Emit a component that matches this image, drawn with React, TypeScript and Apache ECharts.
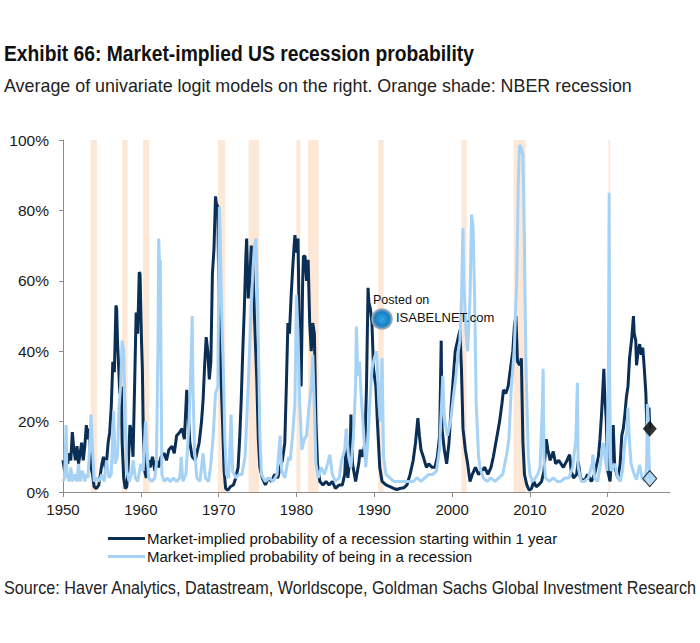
import React, { useEffect, useRef } from "react";
import * as echarts from "echarts";

// NBER recession periods (start, end) in decimal years
const nberRecessions: number[][] = [
  [1953.55, 1954.35],
  [1957.6, 1958.3],
  [1960.3, 1961.1],
  [1969.9, 1970.85],
  [1973.85, 1975.2],
  [1980.0, 1980.5],
  [1981.5, 1982.85],
  [1990.5, 1991.2],
  [2001.2, 2001.85],
  [2007.9, 2009.45],
  [2020.1, 2020.3],
];

// Market-implied probability of a recession starting within 1 year (%)
const startWithinOneYear: number[][] = [
  [1950.0, 9], [1950.2, 6], [1950.4, 10], [1950.6, 8], [1950.8, 11], [1951.0, 9],
  [1951.2, 17], [1951.4, 12], [1951.6, 9], [1951.8, 13], [1952.0, 8], [1952.2, 11],
  [1952.4, 14], [1952.6, 9], [1952.8, 13], [1953.0, 19], [1953.2, 15], [1953.4, 18],
  [1953.6, 7], [1953.8, 5], [1954.0, 1.5], [1954.3, 1], [1954.6, 2], [1955.0, 8],
  [1955.2, 10], [1955.5, 6], [1955.8, 14], [1956.0, 17], [1956.2, 24], [1956.4, 37],
  [1956.6, 34], [1956.8, 53], [1956.9, 52], [1957.0, 43], [1957.1, 38], [1957.3, 28],
  [1957.5, 30], [1957.6, 14], [1957.8, 4], [1958.0, 1], [1958.2, 1.5], [1958.4, 8],
  [1958.6, 19], [1958.8, 17], [1959.0, 10], [1959.2, 30], [1959.4, 51], [1959.6, 45],
  [1959.8, 62.5], [1959.9, 62], [1960.1, 42], [1960.2, 35], [1960.3, 19], [1960.5, 6],
  [1960.7, 4], [1961.0, 9], [1961.2, 7], [1961.5, 10], [1961.8, 6], [1962.0, 9],
  [1962.3, 7], [1962.6, 10], [1963.0, 11], [1963.3, 9], [1963.6, 12], [1964.0, 13],
  [1964.3, 11], [1964.6, 16], [1965.0, 17], [1965.3, 18], [1965.6, 15], [1965.9, 29],
  [1966.1, 22], [1966.3, 14], [1966.6, 10], [1967.0, 9], [1967.2, 11], [1967.5, 14],
  [1967.8, 20], [1968.0, 26], [1968.2, 36], [1968.4, 44], [1968.6, 40], [1968.8, 32],
  [1969.0, 37], [1969.2, 62], [1969.4, 69], [1969.6, 84], [1969.7, 82], [1969.9, 81],
  [1970.0, 60], [1970.1, 50], [1970.3, 33], [1970.5, 20], [1970.7, 6], [1970.9, 1],
  [1971.2, 0.5], [1971.5, 1.5], [1971.9, 2], [1972.2, 4], [1972.5, 7], [1972.7, 15],
  [1972.9, 26], [1973.1, 40], [1973.3, 52], [1973.5, 67], [1973.6, 72], [1973.8, 55],
  [1974.0, 60], [1974.2, 70], [1974.4, 64], [1974.6, 50], [1974.9, 32], [1975.1, 15],
  [1975.3, 7], [1975.6, 4], [1976.0, 2], [1976.4, 4], [1976.8, 3], [1977.2, 5],
  [1977.6, 4], [1977.9, 7], [1978.2, 9], [1978.5, 14], [1978.7, 30], [1978.9, 48],
  [1979.1, 45], [1979.3, 55], [1979.5, 63], [1979.7, 70], [1979.8, 73], [1980.0, 68],
  [1980.2, 72], [1980.4, 40], [1980.6, 30], [1980.8, 60], [1980.9, 67], [1981.1, 67],
  [1981.3, 60], [1981.5, 66], [1981.7, 48], [1981.9, 40], [1982.1, 48], [1982.3, 45],
  [1982.5, 20], [1982.7, 8], [1983.0, 3], [1983.4, 2], [1983.8, 3], [1984.2, 2],
  [1984.6, 3], [1985.0, 1], [1985.5, 2], [1985.9, 2], [1986.2, 5], [1986.4, 14],
  [1986.6, 4], [1986.9, 10], [1987.0, 22], [1987.2, 8], [1987.6, 3], [1988.0, 8],
  [1988.2, 12], [1988.5, 10], [1988.8, 14], [1989.0, 30], [1989.2, 58], [1989.3, 54],
  [1989.5, 52], [1989.7, 48], [1989.9, 35], [1990.2, 30], [1990.4, 20], [1990.7, 7],
  [1991.0, 3], [1991.5, 2], [1992.0, 1.5], [1992.5, 1], [1992.9, 0.7], [1993.3, 1],
  [1993.8, 1.2], [1994.2, 2], [1994.6, 5], [1995.0, 9], [1995.3, 14], [1995.6, 21],
  [1995.8, 16], [1996.0, 12], [1996.3, 10], [1996.7, 7], [1997.0, 8], [1997.4, 7],
  [1997.8, 7], [1998.1, 10], [1998.4, 16], [1998.6, 43], [1998.7, 18], [1999.0, 12],
  [1999.3, 8], [1999.6, 14], [1999.9, 25], [2000.1, 31], [2000.4, 40], [2000.7, 43],
  [2001.0, 46], [2001.2, 35], [2001.4, 18], [2001.7, 12], [2002.0, 8], [2002.3, 3],
  [2002.6, 5], [2003.0, 7], [2003.4, 5], [2003.8, 6], [2004.2, 7], [2004.6, 5],
  [2005.0, 7], [2005.3, 10], [2005.7, 15], [2006.1, 20], [2006.4, 25], [2006.6, 29],
  [2006.9, 28], [2007.2, 30], [2007.5, 35], [2007.8, 40], [2008.0, 47], [2008.2, 50],
  [2008.4, 37], [2008.7, 36], [2008.9, 38], [2009.1, 14], [2009.3, 5], [2009.6, 2],
  [2009.9, 0.5], [2010.2, 1], [2010.5, 3], [2010.8, 1.5], [2011.1, 2], [2011.5, 3],
  [2011.8, 6], [2012.1, 15], [2012.3, 12], [2012.6, 9], [2013.0, 11.5], [2013.3, 8],
  [2013.7, 9], [2014.0, 8], [2014.3, 7], [2014.7, 8.7], [2015.1, 10.6], [2015.3, 6],
  [2015.6, 4], [2016.0, 5], [2016.2, 8.7], [2016.5, 4], [2017.0, 3], [2017.4, 5],
  [2017.9, 3], [2018.3, 5], [2018.8, 10], [2019.0, 15], [2019.2, 22], [2019.5, 35],
  [2019.6, 28], [2019.8, 21], [2020.0, 6], [2020.3, 3], [2020.5, 10], [2020.7, 19],
  [2020.9, 7], [2021.3, 4], [2021.6, 8], [2021.8, 16], [2022.0, 18], [2022.2, 22],
  [2022.4, 27], [2022.6, 30], [2022.8, 38], [2022.9, 40], [2023.1, 44], [2023.3, 50],
  [2023.4, 45], [2023.6, 43], [2023.7, 36], [2023.9, 40], [2024.1, 42], [2024.3, 39],
  [2024.5, 41], [2024.7, 35], [2024.9, 28], [2025.0, 20], [2025.1, 16], [2025.3, 24],
  [2025.4, 18],
];

// Market-implied probability of being in a recession (%)
const beingInRecession: number[][] = [
  [1950.0, 3], [1950.2, 4], [1950.4, 19], [1950.5, 5], [1950.8, 3], [1951.0, 7],
  [1951.2, 3], [1951.5, 5], [1951.8, 3], [1952.0, 8], [1952.2, 3], [1952.5, 6],
  [1952.8, 3], [1953.0, 5], [1953.2, 4], [1953.5, 15], [1953.6, 22], [1953.8, 12],
  [1954.0, 3], [1954.3, 4], [1954.6, 3], [1955.0, 5], [1955.3, 3], [1955.6, 9],
  [1955.9, 4], [1956.2, 5], [1956.5, 23], [1956.7, 8], [1957.0, 10], [1957.2, 24],
  [1957.4, 30], [1957.6, 43], [1957.8, 40], [1958.0, 20], [1958.2, 6], [1958.5, 3],
  [1958.8, 5], [1959.0, 9], [1959.3, 4], [1959.6, 3], [1960.0, 8], [1960.3, 6],
  [1960.6, 20], [1960.8, 12], [1961.0, 4], [1961.4, 3], [1961.8, 4], [1962.0, 8],
  [1962.2, 40], [1962.3, 72], [1962.4, 65], [1962.5, 66], [1962.6, 35], [1962.7, 5],
  [1963.0, 3], [1963.4, 4], [1963.8, 3], [1964.2, 4], [1964.6, 3], [1965.0, 4],
  [1965.2, 10], [1965.4, 3], [1965.8, 5], [1966.2, 20], [1966.5, 40], [1966.6, 50],
  [1966.7, 30], [1966.9, 12], [1967.2, 4], [1967.6, 3], [1968.0, 11], [1968.3, 4],
  [1968.7, 3], [1969.0, 8], [1969.3, 16], [1969.6, 28], [1969.9, 30], [1970.0, 60],
  [1970.1, 81], [1970.2, 73], [1970.4, 50], [1970.6, 35], [1970.8, 15], [1971.0, 5],
  [1971.3, 4], [1971.6, 22], [1971.8, 6], [1972.2, 4], [1972.6, 5], [1973.0, 5],
  [1973.4, 10], [1973.8, 30], [1974.0, 42], [1974.4, 63], [1974.6, 70], [1974.8, 72],
  [1975.0, 55], [1975.2, 30], [1975.3, 16], [1975.5, 5], [1976.0, 3], [1976.5, 4],
  [1977.0, 3], [1977.5, 5], [1977.9, 16], [1978.1, 6], [1978.5, 4], [1979.0, 10],
  [1979.2, 9], [1979.5, 16], [1979.8, 25], [1980.0, 56], [1980.2, 45], [1980.4, 26],
  [1980.7, 12], [1981.0, 15], [1981.3, 16], [1981.6, 24], [1981.9, 30], [1982.1, 39],
  [1982.3, 24], [1982.5, 8], [1982.8, 4], [1983.2, 7], [1983.6, 5], [1984.0, 8],
  [1984.3, 10.6], [1984.6, 5], [1985.0, 3], [1985.5, 4], [1985.8, 9], [1986.2, 12],
  [1986.4, 18], [1986.7, 10], [1987.0, 7], [1987.3, 15], [1987.6, 30], [1987.7, 47],
  [1987.9, 33], [1988.1, 37], [1988.3, 28], [1988.6, 18], [1988.9, 7], [1989.2, 15],
  [1989.4, 24], [1989.7, 35], [1990.0, 38], [1990.3, 40], [1990.6, 25], [1990.8, 20],
  [1991.0, 38], [1991.2, 10], [1991.5, 5], [1992.0, 4], [1992.5, 3], [1993.0, 3],
  [1993.5, 3], [1994.0, 3], [1994.5, 3], [1995.0, 3], [1995.5, 4], [1996.0, 3],
  [1996.5, 4], [1997.0, 5], [1997.5, 5], [1998.0, 6], [1998.4, 12.5], [1998.8, 33],
  [1999.0, 21], [1999.4, 16], [1999.8, 20], [2000.1, 25.7], [2000.5, 33], [2000.8, 40],
  [2001.0, 43], [2001.2, 55], [2001.4, 75], [2001.5, 60], [2001.8, 45], [2002.0, 40],
  [2002.3, 55], [2002.5, 78.8], [2002.7, 75], [2002.9, 54], [2003.1, 25], [2003.4, 10],
  [2003.6, 6.8], [2004.0, 4], [2004.5, 3], [2005.0, 4], [2005.5, 3], [2006.0, 4],
  [2006.5, 5], [2007.0, 10.5], [2007.3, 15], [2007.6, 29.5], [2007.8, 35], [2008.0, 41],
  [2008.3, 60], [2008.5, 87], [2008.6, 95], [2008.7, 98.6], [2008.9, 97.6], [2009.1, 96],
  [2009.3, 70], [2009.35, 59], [2009.5, 35], [2009.8, 10], [2010.0, 5], [2010.3, 3],
  [2010.7, 4], [2011.0, 5], [2011.3, 7], [2011.6, 25], [2011.7, 35], [2011.8, 10],
  [2012.0, 4], [2012.5, 3], [2013.0, 4], [2013.5, 3], [2014.0, 3], [2014.5, 4],
  [2015.0, 4], [2015.5, 7], [2015.9, 15], [2016.1, 31], [2016.2, 7], [2016.6, 3],
  [2017.0, 3], [2017.5, 4], [2018.0, 8], [2018.1, 10.6], [2018.3, 4], [2018.7, 3],
  [2019.0, 7], [2019.4, 14], [2019.7, 9], [2019.9, 6], [2020.1, 40], [2020.18, 85],
  [2020.25, 30], [2020.4, 6], [2020.9, 8], [2021.3, 4], [2021.6, 3], [2021.9, 6],
  [2022.2, 14], [2022.5, 18], [2022.6, 24], [2022.8, 14], [2023.0, 8], [2023.4, 5],
  [2023.7, 3.5], [2024.1, 7.7], [2024.4, 4], [2024.8, 3], [2025.0, 8], [2025.1, 25],
  [2025.2, 21], [2025.3, 10], [2025.4, 3.8],
];

// latest readings, marked with diamonds
const latestStart: number[][] = [[2025.4, 18]];
const latestIn: number[][] = [[2025.4, 3.8]];

const seriesNames = [
  "Market-implied probability of a recession starting within 1 year",
  "Market-implied probability of being in a recession",
];
const titleText = "Exhibit 66: Market-implied US recession probability";
const subtitleText = "Average of univariate logit models on the right. Orange shade: NBER recession";
const sourceText = "Source: Haver Analytics, Datastream, Worldscope, Goldman Sachs Global Investment Research";

const DARK = "#0b2e55";
const LIGHT = "#a6d3f5";
const SHADE = "#fde7d6";
const SANS = '"Liberation Sans", Arial, sans-serif';

// the heading font of the original is condensed: squeeze text to its measured width
function fitScale(text: string, font: string, target: number) {
  const ctx = document.createElement("canvas").getContext("2d");
  if (!ctx) return 1;
  ctx.font = font;
  const w = ctx.measureText(text).width;
  return w > 0 ? target / w : 1;
}

const App = () => {
  const ref = useRef<HTMLDivElement>(null);

  useEffect(() => {
    const chart = echarts.init(ref.current, null, { renderer: "svg" });

    const titleFont = `bold 22px ${SANS}`;
    const subFont = `17.5px ${SANS}`;
    const titleScale = fitScale(titleText, titleFont, 470);
    const subScale = fitScale(subtitleText, subFont, 628);
    const srcScale = fitScale(sourceText, subFont, 693);

    const option = {
      animation: false,
      backgroundColor: "#ffffff",
      grid: { left: 63, top: 140, width: 607, height: 352, containLabel: false },
      xAxis: {
        type: "value",
        min: 1950,
        max: 2028,
        interval: 10,
        axisLine: { show: true, lineStyle: { color: "#8c8c8c", width: 1 } },
        axisTick: { show: true, length: 5, lineStyle: { color: "#8c8c8c" } },
        splitLine: { show: false },
        axisLabel: {
          color: "#1a1a1a",
          fontFamily: SANS,
          fontSize: 15,
          margin: 10,
          showMaxLabel: false,
          formatter: (v: number) => (v % 10 === 0 ? String(v) : ""),
        },
      },
      yAxis: {
        type: "value",
        min: 0,
        max: 100,
        interval: 20,
        axisLine: { show: true, lineStyle: { color: "#8c8c8c", width: 1 } },
        axisTick: { show: true, length: 4, lineStyle: { color: "#8c8c8c" } },
        splitLine: { show: false },
        axisLabel: {
          color: "#1a1a1a",
          fontFamily: SANS,
          fontSize: 15.5,
          margin: 14,
          formatter: (v: number) => `${v}%`,
        },
      },
      legend: {
        data: seriesNames,
        orient: "vertical",
        left: 103,
        top: 526,
        icon: "rect",
        itemWidth: 37,
        itemHeight: 3,
        itemGap: 3,
        selectedMode: false,
        textStyle: { color: "#111", fontFamily: SANS, fontSize: 15, padding: [0, 0, 0, -3] },
      },
      graphic: [
        {
          type: "text",
          x: 4,
          y: 42,
          scaleX: titleScale,
          style: { text: titleText, fill: "#111", font: titleFont },
        },
        {
          type: "text",
          x: 4,
          y: 77,
          scaleX: subScale,
          style: { text: subtitleText, fill: "#222", font: subFont },
        },
        {
          type: "text",
          x: 4,
          y: 579,
          scaleX: srcScale,
          style: { text: sourceText, fill: "#222", font: subFont },
        },
        {
          type: "text",
          x: 373,
          y: 293,
          z: 20,
          style: { text: "Posted on", fill: "#111", font: `12.5px ${SANS}` },
        },
        {
          type: "text",
          x: 396,
          y: 311,
          z: 20,
          style: { text: "ISABELNET.com", fill: "#111", font: `13px ${SANS}` },
        },
        {
          type: "circle",
          shape: { cx: 382, cy: 319, r: 10 },
          z: 20,
          style: {
            fill: new echarts.graphic.RadialGradient(0.5, 0.5, 0.6, [
              { offset: 0, color: "#2ea6e6" },
              { offset: 0.6, color: "#1a7fc0" },
              { offset: 1, color: "#b9c3cc" },
            ]),
            stroke: "#9aa5ae",
            lineWidth: 1.5,
          },
        },
      ],
      series: [
        {
          name: "recessions",
          type: "line",
          data: [],
          silent: true,
          z: 1,
          markArea: {
            silent: true,
            itemStyle: { color: SHADE },
            data: nberRecessions.map(([a, b]) => [{ xAxis: a }, { xAxis: b }]),
          },
        },
        {
          name: seriesNames[0],
          type: "line",
          data: startWithinOneYear,
          showSymbol: false,
          z: 3,
          lineStyle: { color: DARK, width: 3 },
          itemStyle: { color: DARK },
        },
        {
          name: seriesNames[1],
          type: "line",
          data: beingInRecession,
          showSymbol: false,
          z: 4,
          lineStyle: { color: LIGHT, width: 3 },
          itemStyle: { color: LIGHT },
        },
        {
          name: "latest start",
          type: "scatter",
          data: latestStart,
          symbol: "diamond",
          symbolSize: [14, 16],
          z: 6,
          itemStyle: { color: "#000" },
        },
        {
          name: "latest in",
          type: "scatter",
          data: latestIn,
          symbol: "diamond",
          symbolSize: [14, 16],
          z: 6,
          itemStyle: { color: LIGHT, borderColor: "#000", borderWidth: 1 },
        },
      ],
    };

    chart.setOption(option as any);
    return () => {
      chart.dispose();
    };
  }, []);

  return (
    <div
      ref={ref}
      style={{ position: "absolute", left: 0, top: 0, width: 700, height: 643 }}
    />
  );
};

export default App;
